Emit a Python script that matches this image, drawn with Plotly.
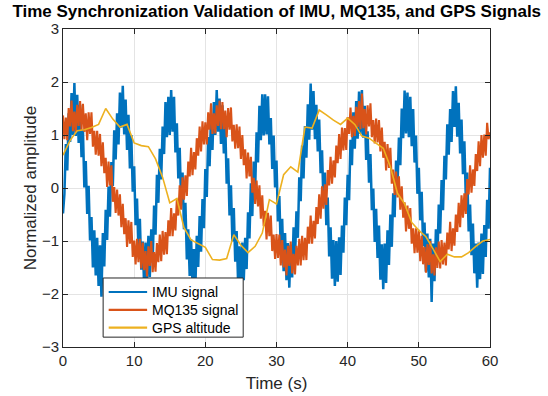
import plotly.graph_objects as go

# Sample times (s) for the two fast signals, 0.2 s apart
t_fast = [round(0.2 * i, 1) for i in range(301)]

imu_signal = [
    -0.48, -0.11, 0.83, 0.33, 1.41, 0.87, 1.79, 1.00, 1.98, 0.98,
    1.76, 0.85, 1.57, 0.58, 1.10, 0.01, 0.51, -0.49, 0.04, -0.99,
    -0.55, -1.50, -0.80, -1.65, -0.94, -1.85, -1.08, -2.05, -0.85, -1.48,
    -0.41, -0.98, 0.03, -0.54, 0.49, 0.04, 1.09, 0.54, 1.41, 0.82,
    1.80, 1.14, 1.93, 1.01, 1.67, 0.72, 1.38, 0.37, 1.00, -0.07,
    0.41, -0.70, -0.20, -1.17, -0.58, -1.54, -1.01, -1.85, -1.03, -1.74,
    -0.90, -1.68, -0.78, -1.40, -0.33, -0.88, 0.25, -0.28, 0.74, 0.16,
    1.16, 0.64, 1.62, 0.96, 1.72, 1.00, 1.85, 1.06, 1.72, 0.67,
    1.22, 0.18, 0.76, -0.31, 0.29, -0.78, -0.28, -1.35, -0.78, -1.66,
    -0.97, -1.82, -1.15, -1.86, -0.90, -1.49, -0.53, -1.20, -0.21, -0.76,
    0.36, -0.17, 0.96, 0.41, 1.37, 0.72, 1.62, 1.00, 1.85, 1.06,
    1.69, 0.83, 1.56, 0.65, 1.20, 0.08, 0.56, -0.52, 0.05, -1.01,
    -0.38, -1.39, -0.81, -1.78, -1.10, -1.85, -1.03, -1.74, -0.94, -1.53,
    -0.46, -0.95, 0.09, -0.53, 0.50, -0.04, 1.05, 0.48, 1.55, 0.90,
    1.77, 0.99, 1.77, 1.01, 1.73, 0.82, 1.32, 0.36, 0.99, 0.01,
    0.52, -0.63, -0.15, -1.20, -0.58, -1.57, -0.85, -1.74, -1.04, -1.88,
    -1.07, -1.69, -0.74, -1.34, -0.44, -0.94, 0.20, -0.25, 0.80, 0.18,
    1.17, 0.57, 1.58, 0.91, 1.97, 1.10, 1.83, 0.92, 1.57, 0.69,
    1.29, 0.28, 0.71, -0.31, 0.29, -0.70, -0.18, -1.29, -0.74, -1.71,
    -0.98, -1.85, -1.00, -1.77, -0.93, -1.64, -0.71, -1.22, -0.18, -0.70,
    0.25, -0.23, 0.91, 0.43, 1.43, 0.74, 1.64, 0.93, 1.82, 1.02,
    1.85, 0.95, 1.55, 0.53, 1.07, 0.10, 0.64, -0.42, -0.01, -1.02,
    -0.39, -1.32, -0.71, -1.73, -1.06, -1.91, -1.05, -1.79, -0.80, -1.45,
    -0.50, -1.11, -0.10, -0.55, 0.52, 0.01, 0.95, 0.43, 1.50, 0.94,
    1.84, 1.03, 1.80, 0.96, 1.72, 0.79, 1.49, 0.48, 0.99, -0.11,
    0.38, -0.61, -0.07, -1.10, -0.65, -1.58, -0.86, -1.69, -0.96, -2.15,
    -1.05, -1.76, -0.78, -1.39, -0.31, -0.86, 0.15, -0.42, 0.61, 0.16,
    1.20, 0.63, 1.49, 0.87, 1.83, 1.15, 1.92, 0.97, 1.61, 0.65,
    1.29, 0.26, 0.88, -0.19, 0.29, -0.82, -0.31, -1.27, -0.67, -1.61,
    -1.05, -1.88, -1.03, -1.72, -0.86, -1.62, -0.70, -1.30, -0.22, -0.77,
    0.38,
]

mq135_signal = [
    1.37, 0.92, 1.33, 0.90, 1.51, 1.16, 1.65, 1.07, 1.44, 1.05,
    1.57, 1.17, 1.64, 1.09, 1.59, 1.06, 1.41, 0.90, 1.43, 1.02,
    1.43, 0.78, 1.08, 0.63, 1.08, 0.61, 1.02, 0.41, 0.86, 0.28,
    0.57, 0.02, 0.50, 0.05, 0.43, -0.26, 0.02, -0.47, -0.03, -0.52,
    -0.12, -0.74, -0.30, -0.87, -0.57, -1.11, -0.61, -1.05, -0.64, -1.30,
    -0.99, -1.44, -0.96, -1.40, -0.96, -1.52, -1.03, -1.55, -1.19, -1.67,
    -1.10, -1.47, -1.00, -1.59, -1.21, -1.58, -1.04, -1.40, -0.88, -1.38,
    -0.81, -1.26, -0.83, -1.25, -0.61, -0.91, -0.38, -0.91, -0.48, -0.80,
    -0.20, -0.52, 0.05, -0.41, 0.20, -0.22, 0.24, -0.15, 0.50, 0.22,
    0.76, 0.24, 0.68, 0.35, 0.94, 0.61, 1.16, 0.69, 1.26, 0.82,
    1.24, 0.82, 1.43, 1.10, 1.60, 1.02, 1.41, 1.03, 1.56, 1.17,
    1.65, 1.11, 1.62, 1.11, 1.46, 0.96, 1.51, 1.10, 1.52, 0.88,
    1.19, 0.74, 1.20, 0.75, 1.16, 0.55, 1.00, 0.43, 0.73, 0.18,
    0.67, 0.22, 0.59, -0.09, 0.19, -0.30, 0.14, -0.35, 0.05, -0.58,
    -0.14, -0.72, -0.43, -0.97, -0.47, -0.91, -0.52, -1.19, -0.88, -1.34,
    -0.87, -1.32, -0.88, -1.46, -0.98, -1.50, -1.16, -1.65, -1.09, -1.47,
    -1.01, -1.61, -1.24, -1.63, -1.09, -1.46, -0.96, -1.46, -0.90, -1.36,
    -0.94, -1.36, -0.73, -1.05, -0.52, -1.05, -0.62, -0.95, -0.36, -0.68,
    -0.12, -0.58, 0.03, -0.39, 0.07, -0.32, 0.34, 0.05, 0.59, 0.08,
    0.52, 0.20, 0.80, 0.47, 1.02, 0.55, 1.14, 0.71, 1.13, 0.72,
    1.34, 1.02, 1.52, 0.96, 1.36, 0.98, 1.53, 1.15, 1.64, 1.11,
    1.78, 1.13, 1.49, 1.01, 1.56, 1.16, 1.60, 0.96, 1.28, 0.84,
    1.31, 0.86, 1.28, 0.69, 1.14, 0.57, 0.87, 0.33, 0.83, 0.38,
    0.76, 0.08, 0.35, -0.13, 0.31, -0.18, 0.22, -0.41, 0.03, -0.56,
    -0.27, -0.82, -0.33, -0.77, -0.38, -1.05, -0.76, -1.23, -0.76, -1.22,
    -0.79, -1.38, -0.90, -1.44, -1.11, -1.60, -1.06, -1.45, -1.00, -1.61,
    -1.25, -1.65, -1.12, -1.51, -1.01, -1.52, -0.98, -1.44, -1.03, -1.46,
    -0.84, -1.16, -0.64, -1.19, -0.76, -1.09, -0.50, -0.83, -0.28, -0.74,
    -0.14, -0.56, -0.10, -0.49, 0.17, -0.12, 0.43, -0.09, 0.35, 0.04,
    0.64, 0.32, 0.88, 0.41, 1.00, 0.57, 1.01, 0.61, 1.23, 0.92,
    1.05,
]

# GPS altitude, one fix per second
t_gps = list(range(61))
gps_altitude = [
    0.62, 0.90, 1.08, 1.10, 1.14, 1.20, 1.50, 1.30, 1.15, 1.20,
    0.85, 0.80, 0.78, 0.55, 0.20, -0.28, -0.20, -0.75, -0.98, -1.05,
    -1.12, -1.35, -1.36, -1.33, -0.88, -1.08, -1.22, -1.10, -0.85, -0.22,
    -0.30, 0.25, 0.40, 0.30, 1.15, 1.13, 1.47, 1.38, 1.28, 1.20,
    1.32, 1.20, 0.98, 0.94, 0.85, 0.75, 0.40, -0.10, -0.30, -0.65,
    -0.80, -0.92, -1.15, -1.39, -1.25, -1.30, -1.30, -1.22, -1.10, -1.00,
    -0.97,
]

series_names = ["IMU signal", "MQ135 signal", "GPS altitude"]
series_colors = ["#0072BD", "#D95319", "#EDB120"]
x_ticks = [0, 10, 20, 30, 40, 50, 60]
y_ticks = [-3, -2, -1, 0, 1, 2, 3]

FONT = "Liberation Sans, Arial, Helvetica, sans-serif"
AX = "#262626"
GRID = "#E4E4E4"

fig = go.Figure()
series = [(t_fast, imu_signal, 2.5), (t_fast, mq135_signal, 2.1), (t_gps, gps_altitude, 1.6)]
for (xs, ys, w), name, color in zip(series, series_names, series_colors):
    fig.add_trace(go.Scatter(x=xs, y=ys, mode="lines", name=name,
                             line=dict(color=color, width=w), showlegend=False))

axis_common = dict(
    showline=True, linecolor=AX, linewidth=1, mirror="ticks",
    ticks="inside", ticklen=5, tickcolor=AX, tickwidth=1,
    showgrid=True, gridcolor=GRID, gridwidth=1, zeroline=False,
    automargin=False,
    tickfont=dict(family=FONT, size=15, color=AX),
)

fig.update_xaxes(range=[0, 60], tickvals=x_ticks,
                 title=dict(text="Time (s)", font=dict(family=FONT, size=17, color=AX), standoff=9),
                 **axis_common)
fig.update_yaxes(range=[-3, 3], tickvals=y_ticks,
                 title=dict(text="Normalized amplitude", font=dict(family=FONT, size=17, color=AX), standoff=0),
                 **axis_common)

# Legend box drawn in axes-paper coordinates
leg_x0, leg_x1, leg_y0, leg_y1 = 0.094, 0.422, 0.031, 0.217
shapes = [dict(type="rect", xref="paper", yref="paper", x0=leg_x0, x1=leg_x1, y0=leg_y0, y1=leg_y1,
               fillcolor="white", line=dict(color=AX, width=1), layer="above")]
annotations = []
row_y = [0.173, 0.117, 0.061]
for name, color, yy in zip(series_names, series_colors, row_y):
    shapes.append(dict(type="line", xref="paper", yref="paper", x0=0.107, x1=0.197, y0=yy, y1=yy,
                       line=dict(color=color, width=2.2), layer="above"))
    annotations.append(dict(xref="paper", yref="paper", x=0.203, y=yy, text=name, showarrow=False,
                            xanchor="left", yanchor="middle",
                            font=dict(family=FONT, size=14, color="black")))

fig.update_layout(
    width=548, height=396,
    margin=dict(l=63, r=58, t=29, b=49),
    paper_bgcolor="white", plot_bgcolor="white",
    font=dict(family=FONT, color=AX),
    title=dict(text="<b>Time Synchronization Validation of IMU, MQ135, and GPS Signals</b>",
               x=0.505, xanchor="center", y=0.972, yanchor="middle",
               font=dict(family=FONT, size=17, color="black")),
    shapes=shapes, annotations=annotations,
    showlegend=False,
)

fig.write_html("out.html")
